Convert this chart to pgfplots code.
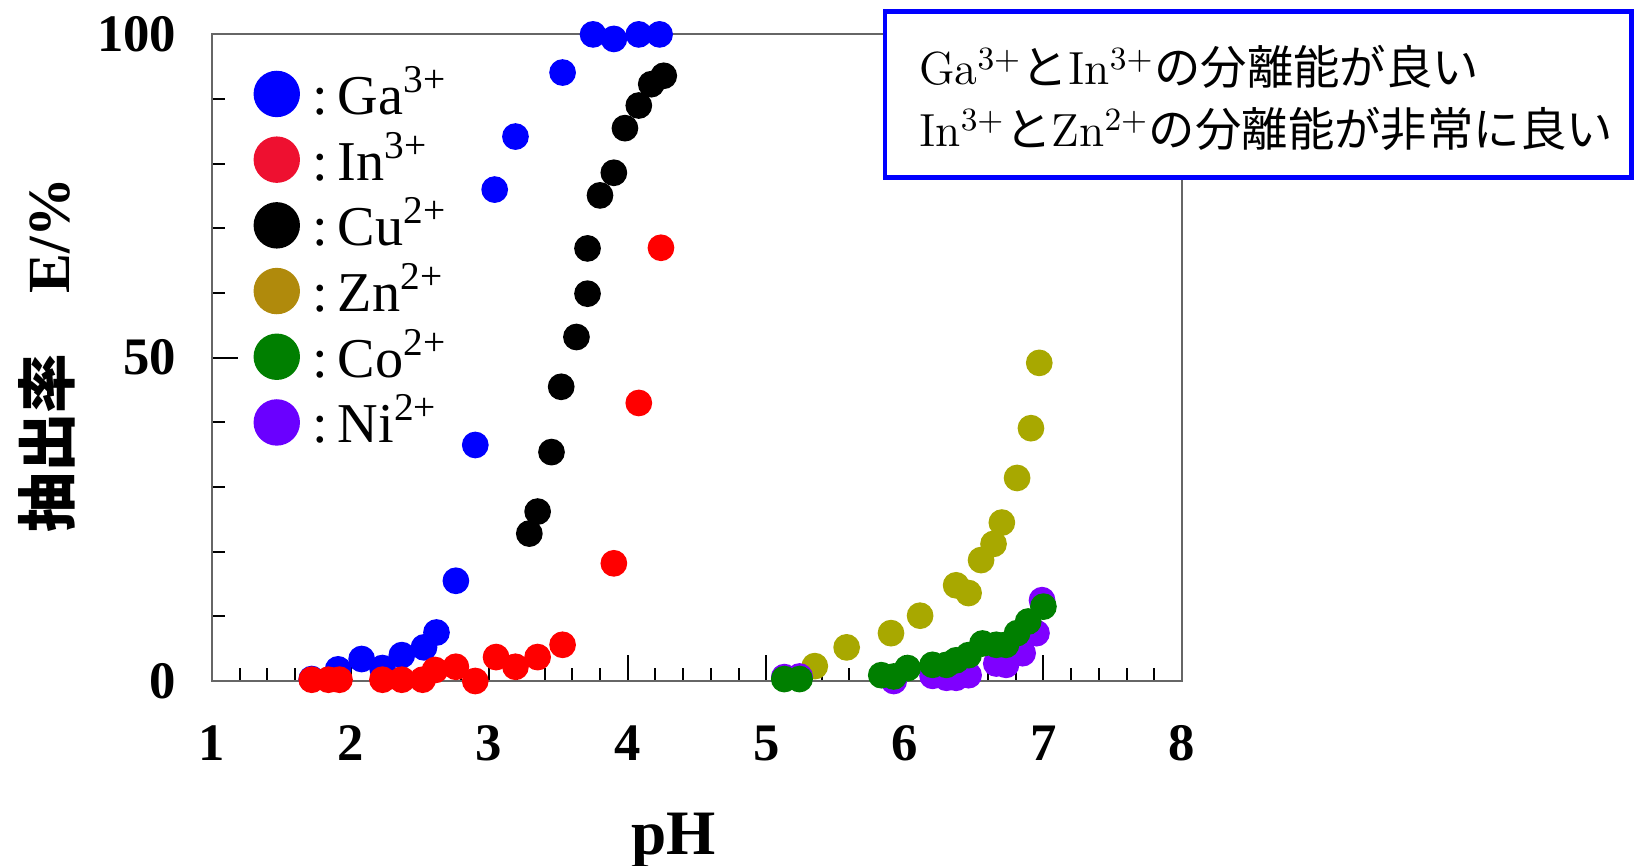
\documentclass[border=0pt]{standalone}
\usepackage{fontspec}
\usepackage{pgfplots}
\pgfplotsset{compat=1.18}
\newfontfamily\tnr{Liberation Serif}
\newfontfamily\jp{Noto Sans CJK JP}

\definecolor{ga}{HTML}{0000FF}
\definecolor{inred}{HTML}{FF0000}
\definecolor{inleg}{HTML}{EE1030}
\definecolor{zn}{HTML}{A8A800}
\definecolor{znleg}{HTML}{B08A0C}
\definecolor{co}{HTML}{007F00}
\definecolor{ni}{HTML}{7F00FF}
\definecolor{nileg}{HTML}{6A00FF}

\pgfplotsset{pt/.style={forget plot, only marks, mark=*, mark size=3.6pt, color=#1}}

\begin{document}
\begin{tikzpicture}
\begin{axis}[
  width=9.70cm, height=6.466cm, scale only axis,
  xmin=1, xmax=8, ymin=0, ymax=100,
  xtick={1,...,8}, minor x tick num=4,
  ytick={0,50,100}, minor y tick num=4,
  xtick pos=bottom, ytick pos=left, tick align=inside,
  major tick length=0.26cm, minor tick length=0.13cm,
  every tick/.style={black, line width=0.6pt},
  axis line style={draw=black!60, line width=0.6pt},
  /pgf/number format/assume math mode=true,
  ticklabel style={font=\tnr\bfseries\fontsize{15}{15}\selectfont},
  xticklabel style={anchor=base, inner sep=0pt, yshift=-0.79cm},
  yticklabel style={anchor=east, inner sep=0pt, xshift=-0.35cm},
  xlabel={\tnr\bfseries pH},
  every axis x label/.style={at={(axis cs:4.33,-26.9)}, anchor=base, font=\fontsize{18}{18}\selectfont},
  ylabel={{\jp\bfseries 抽出率　}{\tnr\bfseries E/\%}},
  every axis y label/.style={at={(axis cs:-0.19,50.4)}, rotate=90, anchor=center, font=\fontsize{17}{17}\selectfont},
  clip=false,
  legend style={at={(axis cs:1.30,95.87)}, anchor=north west, draw=none, fill=none,
    inner sep=0pt, outer sep=0pt, row sep=0pt, column sep=0.13cm,
    font=\tnr\fontsize{16}{16}\selectfont,
    nodes={inner sep=0pt, text height=0.534cm, text depth=0.123cm}},
  legend cell align=left,
]
\addlegendimage{legend image code/.code={\fill[ga] (0.225cm,0cm) circle (0.225cm);}}
\addlegendentry{:\,Ga\textsuperscript{3+}}
\addlegendimage{legend image code/.code={\fill[inleg] (0.225cm,0cm) circle (0.225cm);}}
\addlegendentry{:\,In\textsuperscript{3+}}
\addlegendimage{legend image code/.code={\fill[black] (0.225cm,0cm) circle (0.225cm);}}
\addlegendentry{:\,Cu\textsuperscript{2+}}
\addlegendimage{legend image code/.code={\fill[znleg] (0.225cm,0cm) circle (0.225cm);}}
\addlegendentry{:\,Zn\textsuperscript{2+}}
\addlegendimage{legend image code/.code={\fill[co] (0.225cm,0cm) circle (0.225cm);}}
\addlegendentry{:\,Co\textsuperscript{2+}}
\addlegendimage{legend image code/.code={\fill[nileg] (0.225cm,0cm) circle (0.225cm);}}
\addlegendentry{:\,Ni\textsuperscript{2+}}

% Ga3+
\addplot[pt=ga] coordinates {
 (1.72,0.3)(1.91,1.8)(2.08,3.4)(2.23,2.0)(2.37,4.0)(2.53,5.2)(2.62,7.5)
 (2.76,15.5)(2.90,36.5)(3.04,76.0)(3.19,84.2)(3.53,94.1)(3.75,100)
 (3.90,99.3)(4.08,100)(4.23,100)};
% In3+
\addplot[pt=inred] coordinates {
 (1.72,0.2)(1.84,0.2)(1.92,0.2)(2.23,0.2)(2.37,0.2)(2.52,0.2)(2.61,1.7)
 (2.76,2.2)(2.90,0.0)(3.05,3.7)(3.19,2.2)(3.35,3.7)(3.53,5.6)(3.90,18.2)
 (4.08,43.0)(4.24,67.0)};
% Cu2+
\addplot[pt=black] coordinates {
 (3.29,22.8)(3.35,26.2)(3.45,35.4)(3.52,45.5)(3.63,53.2)(3.71,59.9)
 (3.71,66.9)(3.80,75.1)(3.90,78.6)(3.98,85.5)(4.08,89.0)(4.17,92.3)(4.26,93.6)};
% Zn2+
\addplot[pt=zn] coordinates {
 (5.35,2.3)(5.58,5.2)(5.90,7.4)(6.11,10.1)(6.37,14.8)(6.46,13.6)(6.55,18.7)
 (6.64,21.2)(6.70,24.5)(6.81,31.4)(6.91,39.1)(6.97,49.2)};
% Ni2+
\addplot[pt=ni] coordinates {
 (5.13,0.6)(5.24,0.7)(5.92,0.0)(6.20,0.8)(6.30,0.5)(6.37,0.5)(6.46,0.9)
 (6.66,2.7)(6.73,2.5)(6.85,4.3)(6.95,7.4)(6.99,12.5)};
% Co2+
\addplot[pt=co] coordinates {
 (5.13,0.3)(5.24,0.3)(5.83,0.9)(5.92,0.7)(6.02,2.0)(6.20,2.5)(6.30,2.5)
 (6.37,3.2)(6.46,4.0)(6.56,5.8)(6.66,5.6)(6.73,5.6)(6.81,7.4)(6.89,9.2)(7.00,11.5)};

\draw[blue, line width=1.3pt, fill=white] (axis cs:5.856,77.9) rectangle (axis cs:11.245,103.5);
\node[anchor=base west, inner sep=0pt, font=\fontsize{13.2}{13.2}\selectfont] at (axis cs:6.098,92.2)
  {Ga\textsuperscript{3+}{\jp と}In\textsuperscript{3+}{\jp の分離能が良い}};
\node[anchor=base west, inner sep=0pt, font=\fontsize{13.2}{13.2}\selectfont] at (axis cs:6.098,82.7)
  {In\textsuperscript{3+}{\jp と}Zn\textsuperscript{2+}{\jp の分離能が非常に良い}};

\coordinate (O) at (axis cs:1,0);
\end{axis}
\pgfresetboundingbox
\path ([shift={(-2.12cm,-1.85cm)}]O) rectangle ([shift={(14.24cm,6.81cm)}]O);
\end{tikzpicture}
\end{document}
